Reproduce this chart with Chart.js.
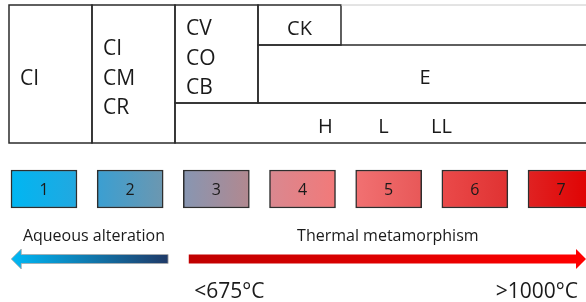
<!DOCTYPE html>
<html>
<head>
<meta charset="utf-8">
<script src="https://cdn.jsdelivr.net/npm/chart.js@4"></script>
<style>
  html, body { margin: 0; padding: 0; background: #fff; }
  #wrap { width: 586px; height: 302px; }
</style>
</head>
<body>
<div id="wrap"><canvas id="chart" width="586" height="302"></canvas></div>
<script>
// petrologic types and their box colours (gradient start / end)
const types = [1, 2, 3, 4, 5, 6, 7];
const typeLabels = ['1', '2', '3', '4', '5', '6', '7'];
const typeColorsFrom = ['#00b6f2', '#3a9fd2', '#8796b2', '#d98890', '#f17172', '#ea4a4a', '#e02222'];
const typeColorsTo   = ['#22a8e0', '#6c97b0', '#b2888f', '#f27979', '#e85858', '#e03232', '#e00000'];

// chondrite groups in the table: labels, table columns spanned, table rows spanned
const groupLabels = [['CI'], ['CI', 'CM', 'CR'], ['CV', 'CO', 'CB'], ['CK'], ['E'], ['H', 'L', 'LL']];
const groupCols = [[1, 1], [2, 2], [3, 3], [4, 4], [4, 9], [3, 9]];
const groupRows = [[0, 3], [0, 3], [0, 2], [0, 1], [1, 2], [2, 3]];
const groupStacked = [true, true, true, false, false, false];

// processes along the type axis
const processLabels = ['Aqueous alteration', 'Thermal metamorphism'];
const processRange = [[0.62, 2.44], [2.68, 7.29]];
const processLabelAt = [1.58, 4.99];
const processPointsLeft = [true, false];
const processColorsFrom = ['#00b8f5', '#c00000'];
const processColorsTo = ['#1f3a68', '#ff0000'];
const tempLabels = ['<675°C', '>1000°C'];
const tempAt = [3.15, 6.72];

// layout (pixel units of the y scale)
const ROW_EDGES = [5, 45, 103, 143];
const BOX_TOP = 170, BOX_BOTTOM = 208;
const PROC_LABEL_Y = 236, ARROW_Y = 259, TEMP_Y = 292;
const FONT = '"Open Sans", "Noto Sans", sans-serif';
const INK = '#1a1a1a';

const diagramPlugin = {
    id: 'diagram',
    beforeDatasetsDraw(chart) {
        // horizontal gradient inside each type box
        const meta = chart.getDatasetMeta(0);
        meta.data.forEach((el, i) => {
            const p = el.getProps(['x', 'width'], true);
            if (!isFinite(p.x) || !isFinite(p.width)) return;
            const g = chart.ctx.createLinearGradient(p.x - p.width / 2, 0, p.x + p.width / 2, 0);
            g.addColorStop(0, typeColorsFrom[i]);
            g.addColorStop(1, typeColorsTo[i]);
            el.options.backgroundColor = g;
        });
    },
    afterDatasetsDraw(chart) {
        const ctx = chart.ctx;
        const xs = chart.scales.x, tx = chart.scales.tx, ys = chart.scales.y;
        ctx.save();

        // table cells
        ctx.strokeStyle = '#2b2b2b';
        ctx.lineWidth = 1.5;
        groupLabels.forEach((labels, i) => {
            const l = tx.getPixelForValue(groupCols[i][0] - 0.5);
            const r = tx.getPixelForValue(groupCols[i][1] + 0.5);
            const t = ys.getPixelForValue(ROW_EDGES[groupRows[i][0]]);
            const b = ys.getPixelForValue(ROW_EDGES[groupRows[i][1]]);
            ctx.strokeRect(l, t, r - l, b - t);

            ctx.fillStyle = INK;
            ctx.textBaseline = 'middle';
            if (groupStacked[i]) {
                ctx.font = '21px ' + FONT;
                ctx.textAlign = 'left';
                const mid = (t + b) / 2 + 5;
                labels.forEach((s, k) => {
                    ctx.fillText(s, l + 11, mid + (k - (labels.length - 1) / 2) * 29.5);
                });
            } else {
                ctx.font = '20px ' + FONT;
                ctx.textAlign = 'center';
                const cx = groupCols[i][1] > 7 ? (l + chart.chartArea.right) / 2 + 3 : (l + r) / 2;
                const mid = (t + b) / 2 + 4;
                labels.forEach((s, k) => {
                    ctx.fillText(s, cx + (k - (labels.length - 1) / 2) * 58, mid);
                });
            }
        });
        // open top edge right of CK
        ctx.strokeStyle = '#c8c8c8';
        ctx.lineWidth = 1;
        ctx.beginPath();
        ctx.moveTo(tx.getPixelForValue(4.5), ys.getPixelForValue(ROW_EDGES[0]));
        ctx.lineTo(chart.chartArea.right, ys.getPixelForValue(ROW_EDGES[0]));
        ctx.stroke();

        // type numbers in the boxes
        const meta = chart.getDatasetMeta(0);
        ctx.font = '16px ' + FONT;
        ctx.textAlign = 'center';
        ctx.fillStyle = INK;
        meta.data.forEach((el, i) => {
            const p = el.getProps(['x', 'y', 'base'], true);
            ctx.fillText(typeLabels[i], p.x, (p.y + p.base) / 2 + 1);
        });

        // process arrows and labels
        const ay = ys.getPixelForValue(ARROW_Y);
        processLabels.forEach((label, i) => {
            const x0 = xs.getPixelForValue(processRange[i][0]);
            const x1 = xs.getPixelForValue(processRange[i][1]);
            const head = 10, half = 4.5, headHalf = 10;
            const g = ctx.createLinearGradient(x0, 0, x1, 0);
            g.addColorStop(0, processColorsFrom[i]);
            g.addColorStop(1, processColorsTo[i]);
            ctx.beginPath();
            if (processPointsLeft[i]) {
                ctx.moveTo(x0, ay);
                ctx.lineTo(x0 + head, ay - headHalf);
                ctx.lineTo(x0 + head, ay - half);
                ctx.lineTo(x1, ay - half);
                ctx.lineTo(x1, ay + half);
                ctx.lineTo(x0 + head, ay + half);
                ctx.lineTo(x0 + head, ay + headHalf);
            } else {
                ctx.moveTo(x1, ay);
                ctx.lineTo(x1 - head, ay - headHalf);
                ctx.lineTo(x1 - head, ay - half);
                ctx.lineTo(x0, ay - half);
                ctx.lineTo(x0, ay + half);
                ctx.lineTo(x1 - head, ay + half);
                ctx.lineTo(x1 - head, ay + headHalf);
            }
            ctx.closePath();
            ctx.fillStyle = g;
            ctx.fill();
            if (processPointsLeft[i]) {
                ctx.strokeStyle = 'rgba(170,170,170,0.8)';
                ctx.lineWidth = 1;
                ctx.stroke();
            }

            ctx.fillStyle = INK;
            ctx.font = '16px ' + FONT;
            ctx.textAlign = 'center';
            ctx.textBaseline = 'middle';
            ctx.fillText(label, xs.getPixelForValue(processLabelAt[i]), ys.getPixelForValue(PROC_LABEL_Y));
        });

        // temperature labels
        ctx.font = '21px ' + FONT;
        ctx.textAlign = 'center';
        tempLabels.forEach((s, i) => {
            ctx.fillText(s, xs.getPixelForValue(tempAt[i]), ys.getPixelForValue(TEMP_Y));
        });

        ctx.restore();
    }
};

new Chart(document.getElementById('chart'), {
    type: 'bar',
    data: {
        datasets: [{
            data: types.map(t => ({ x: t, y: [BOX_TOP, BOX_BOTTOM] })),
            backgroundColor: typeColorsFrom,
            borderColor: '#2e2e2e',
            borderWidth: 1.5,
            borderSkipped: false,
            barThickness: 66
        }]
    },
    options: {
        responsive: false,
        animation: false,
        events: [],
        layout: { padding: 0 },
        plugins: { legend: { display: false }, tooltip: { enabled: false } },
        scales: {
            x: { type: 'linear', min: 0.4894, max: 7.2899, offset: false, display: false },
            tx: { type: 'linear', axis: 'x', min: 0.3916, max: 7.452, offset: false, display: false },
            y: { type: 'linear', min: 0, max: 302, reverse: true, offset: false, display: false }
        }
    },
    plugins: [diagramPlugin]
});
</script>
</body>
</html>
